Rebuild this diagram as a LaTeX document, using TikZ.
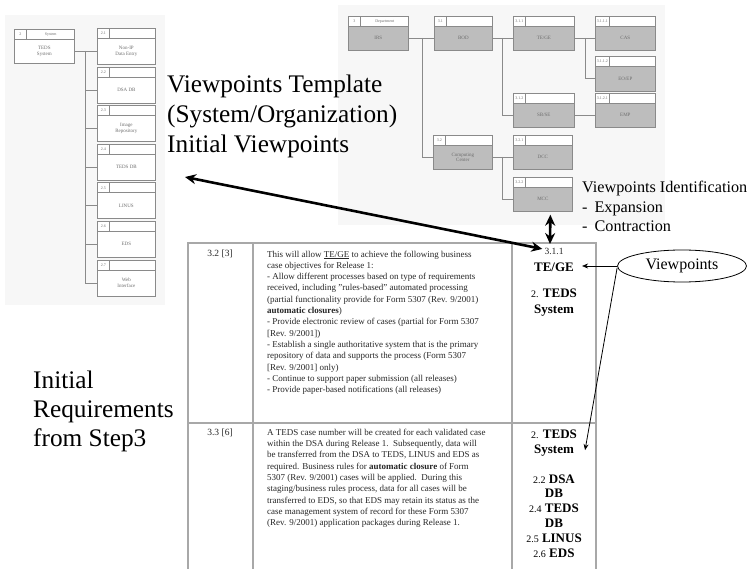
\documentclass[tikz,border=0pt]{standalone}
\usepackage{fontspec}
\setmainfont{Liberation Serif}
\usetikzlibrary{arrows.meta,shapes.geometric,calc}

\definecolor{boxline}{HTML}{8A8A8A}
\definecolor{bodygray}{HTML}{BDBDBD}
\definecolor{gridgray}{HTML}{A8A8A8}
\definecolor{inkgray}{HTML}{6E6E6E}
\definecolor{haze}{HTML}{F7F7F7}

\tikzset{
  hdr/.style={draw=boxline, line width=0.7pt, fill=white, inner sep=0pt,
    minimum height=10pt, anchor=north west},
  numcell/.style={draw=boxline, line width=0.7pt, inner xsep=1.5pt, inner ysep=0pt,
    minimum height=10pt, minimum width=12pt, anchor=north west,
    font=\fontsize{4}{4}\selectfont, text=inkgray},
  hdrtext/.style={inner sep=0pt, font=\fontsize{4}{4}\selectfont, text=inkgray},
  orgbody/.style={draw=boxline, line width=0.7pt, inner sep=0pt, anchor=north west,
    font=\fontsize{5}{5.6}\selectfont, text=inkgray, align=center},
  link/.style={draw=boxline, line width=0.7pt},
  bigtxt/.style={inner sep=0pt, anchor=base west, font=\fontsize{25.3}{30}\selectfont},
  midtxt/.style={inner sep=0pt, anchor=base west, font=\fontsize{16.2}{19}\selectfont},
  celltxt/.style={inner sep=0pt, anchor=north west, align=left,
    font=\fontsize{9}{11.3}\selectfont, text=black!85},
  idtxt/.style={inner sep=0pt, anchor=base, font=\fontsize{9.5}{11}\selectfont, text=black!85},
  vptxt/.style={inner sep=0pt, anchor=base, font=\fontsize{13}{15}\selectfont},
  grid/.style={draw=gridgray, line width=1.2pt},
  bigarrow/.style={line width=2.6pt, {Stealth[length=11pt,width=10pt]}-{Stealth[length=11pt,width=10pt]}},
  thinarrow/.style={line width=0.8pt, -{Stealth[length=6pt,width=5pt]}},
}

% One box of an organisation chart: header strip with a number cell, body below.
% #1 name, #2 left, #3 top, #4 width, #5 body height, #6 number, #7 header text,
% #8 body text, #9 body fill
\newcommand\orgbox[9]{%
  \node[hdr, minimum width=#4] (#1-h) at (#2,#3) {};
  \node[numcell] (#1-n) at (#2,#3) {#6};
  \node[hdrtext] (#1-t) at ($(#1-n.east)!0.5!(#1-h.east)$) {#7};
  \node[orgbody, fill=#9, minimum width=#4, minimum height=#5] (#1) at (#2,#3+10) {#8};
}

\begin{document}
\begin{tikzpicture}[x=1pt,y=-1pt]
\useasboundingbox (0,0) rectangle (755,569);

% faint backdrops of the two charts
\fill[haze] (5,15) rectangle (165,305);
\fill[haze] (338,5) rectangle (665,225);

% ---------- system chart (left) ----------
\orgbox{L0}{14}{29}{60}{24}{2}{System}{TEDS\\System}{white}
\orgbox{L1}{97}{28}{58}{26}{2.1}{}{Non-IP\\Data Entry}{white}
\orgbox{L2}{97}{66.6}{58}{26}{2.2}{}{DSA DB}{white}
\orgbox{L3}{97}{105.2}{58}{26}{2.3}{}{Image\\Repository}{white}
\orgbox{L4}{97}{143.8}{58}{26}{2.4}{}{TEDS DB}{white}
\orgbox{L5}{97}{182.4}{58}{26}{2.5}{}{LINUS}{white}
\orgbox{L6}{97}{221}{58}{26}{2.6}{}{EDS}{white}
\orgbox{L7}{97}{259.6}{58}{26}{2.7}{}{Web\\Interface}{white}

\coordinate (Lj) at (85,51);
\draw[link] (L0.east) -- (L1.west);
\draw[link] (Lj) -- (Lj |- L7.west) -- (L7.west);
\foreach \k in {2,...,6} { \draw[link] (Lj |- L\k.west) -- (L\k.west); }

% ---------- organisation chart (right) ----------
\orgbox{R0}{348}{16}{60}{24}{3}{Department}{IRS}{bodygray}
\orgbox{R1}{434}{16}{58}{24}{3.1}{}{BOD}{bodygray}
\orgbox{R2}{513}{16}{61}{24}{3.1.1}{}{TE/GE}{bodygray}
\orgbox{R3}{595}{16}{60}{24}{3.1.1.1}{}{CAS}{bodygray}
\orgbox{R4}{595}{56}{60}{25}{3.1.1.2}{}{EO/EP}{bodygray}
\orgbox{R5}{513}{93}{61}{24}{3.1.2}{}{SB/SE}{bodygray}
\orgbox{R6}{595}{93}{60}{24}{3.1.2.1}{}{EMP}{bodygray}
\orgbox{R7}{433}{135}{59}{24}{3.2}{}{Computing\\Center}{bodygray}
\orgbox{R8}{513}{135}{59}{24}{3.2.1}{}{DCC}{bodygray}
\orgbox{R9}{513}{177}{59}{24}{3.2.2}{}{MCC}{bodygray}

\coordinate (Rj1) at (422,38);
\coordinate (Rj2) at (502,38);
\coordinate (Rj3) at (585,38);
\coordinate (Rj4) at (502,157);
\draw[link] (R0.east) -- (R1.west);
\draw[link] (Rj1) |- (R7.west);
\draw[link] (R1.east) -- (R2.west);
\draw[link] (Rj2) |- (R5.west);
\draw[link] (R2.east) -- (R3.west);
\draw[link] (Rj3) |- (R4.west);
\draw[link] (R5.east) -- (R6.west);
\draw[link] (R7.east) -- (R8.west);
\draw[link] (Rj4) |- (R9.west);

% ---------- captions ----------
\node[bigtxt] (tpl1) at (167,93) {Viewpoints Template};
\node[bigtxt] (tpl2) at (167,123) {(System/Organization)};
\node[bigtxt] (tpl3) at (167,153) {Initial Viewpoints};

\node[bigtxt] (req1) at (33,388) {Initial};
\node[bigtxt] (req2) at (33,417) {Requirements};
\node[bigtxt] (req3) at (33,446) {from Step3};

\node[midtxt] (vid) at (582,193) {Viewpoints Identification};
\node[midtxt] (vexp) at (582,213) {-\hspace{7pt}Expansion};
\node[midtxt] (vcon) at (582,232) {-\hspace{7pt}Contraction};

% ---------- requirements table ----------
\draw[grid] (188,569) -- (188,243) -- (596,243) -- (596,569);
\draw[grid] (253,243) -- (253,569);
\draw[grid] (512,243) -- (512,569);
\draw[grid] (188,423) -- (596,423);

\node[idtxt] (id1) at (220,257) {3.2 [3]};
\node[idtxt] (id2) at (220,435) {3.3 [6]};

\node[celltxt] (req32) at (267,250.5) {%
This will allow \underline{TE/GE} to achieve the following business\\
case objectives for Release 1:\\
- Allow different processes based on type of requirements\\
received, including "rules-based" automated processing\\
(partial functionality provide for Form 5307 (Rev. 9/2001)\\
\textbf{automatic closures})\\
- Provide electronic review of cases (partial for Form 5307\\
{[}Rev. 9/2001{]})\\
- Establish a single authoritative system that is the primary\\
repository of data and supports the process (Form 5307\\
{[}Rev. 9/2001{]} only)\\
- Continue to support paper submission (all releases)\\
- Provide paper-based notifications (all releases)};

\node[celltxt] (req33) at (267,428.8) {%
A TEDS case number will be created for each validated case\\
within the DSA during Release 1.\ \ Subsequently, data will\\
be transferred from the DSA to TEDS, LINUS and EDS as\\
required. Business rules for \textbf{automatic closure} of Form\\
5307 (Rev. 9/2001) cases will be applied.\ \ During this\\
staging/business rules process, data for all cases will be\\
transferred to EDS, so that EDS may retain its status as the\\
case management system of record for these Form 5307\\
(Rev. 9/2001) application packages during Release 1.};

% viewpoint column
\node[idtxt] (n311) at (554,255) {3.1.1};
\node[vptxt] (tege) at (554,272) {\textbf{TE/GE}};
\node[vptxt] (s1a) at (554,298) {{\fontsize{10}{12}\selectfont 2.} \textbf{TEDS}};
\node[vptxt] (s1b) at (554,313) {\textbf{System}};

\node[vptxt] (s2a) at (554,438) {{\fontsize{10}{12}\selectfont 2.} \textbf{TEDS}};
\node[vptxt] (s2b) at (554,453) {\textbf{System}};
\node[vptxt] (s2c) at (554,483) {{\fontsize{10}{12}\selectfont 2.2} \textbf{DSA}};
\node[vptxt] (s2d) at (554,497) {\textbf{DB}};
\node[vptxt] (s2e) at (554,512) {{\fontsize{10}{12}\selectfont 2.4} \textbf{TEDS}};
\node[vptxt] (s2f) at (554,527) {\textbf{DB}};
\node[vptxt] (s2g) at (554,542) {{\fontsize{10}{12}\selectfont 2.5} \textbf{LINUS}};
\node[vptxt] (s2h) at (554,557) {{\fontsize{10}{12}\selectfont 2.6} \textbf{EDS}};

% viewpoints callout
\node[ellipse, draw, line width=0.8pt, minimum width=129pt, minimum height=32pt,
      inner sep=0pt, font=\fontsize{16}{19}\selectfont] (vp) at (682,266) {Viewpoints};

% ---------- arrows ----------
\coordinate (tplTip) at (185,177);
\draw[bigarrow] (tplTip) -- ([xshift=-2pt,yshift=3pt]n311.west);
\coordinate (tabTop) at (550,244);
\draw[bigarrow] ([xshift=7.5pt,yshift=-3pt]R9.south) -- (tabTop);
\draw[thinarrow] (vp.west) -- ([xshift=8pt]tege.east |- vp.west);
\draw[thinarrow] ([yshift=-2pt]vp.west) -- ([xshift=11pt]s2b.east);
\end{tikzpicture}
\end{document}
